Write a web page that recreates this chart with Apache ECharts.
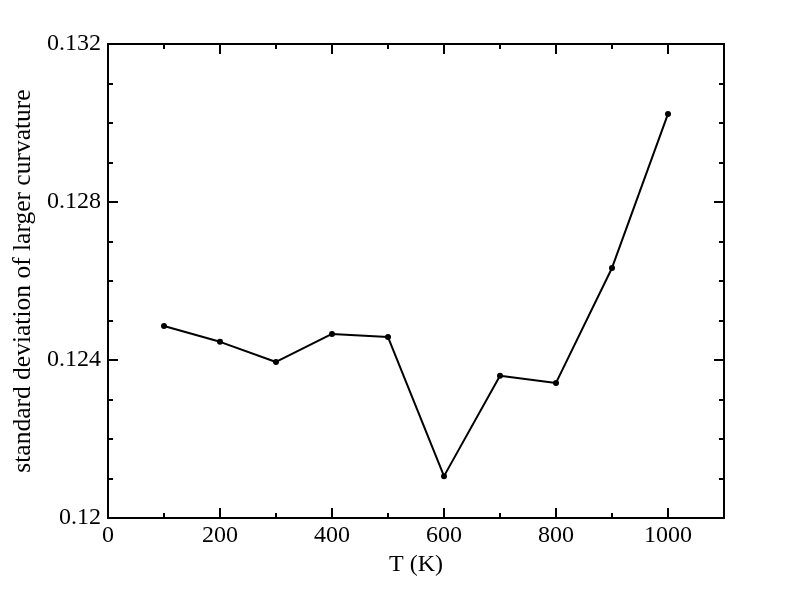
<!DOCTYPE html>
<html><head><meta charset="utf-8">
<script src="https://cdn.jsdelivr.net/npm/echarts@6/dist/echarts.min.js"></script>
<style>html,body{margin:0;padding:0;background:#fff}#c{width:792px;height:612px}</style>
</head><body><div id="c"></div>
<script>
const temps = [100, 200, 300, 400, 500, 600, 700, 800, 900, 1000];
const stdDev = [0.12486, 0.12446, 0.12395, 0.12466, 0.12458, 0.12106, 0.12360, 0.12342, 0.12633, 0.13023];
const xTitle = 'T (K)';
const yTitle = 'standard deviation of larger curvature';

const chart = echarts.init(document.getElementById('c'));
const font = 'Liberation Serif, Times New Roman, serif';
const axisLine = {show: true, onZero: false, lineStyle: {color: '#000', width: 2}};
const tickMajor = {show: true, inside: true, length: 10, lineStyle: {color: '#000', width: 2}};
const xMinor = {show: true, splitNumber: 2, length: 5, lineStyle: {color: '#000', width: 2}};
const yMinor = {show: true, splitNumber: 4, length: 5, lineStyle: {color: '#000', width: 2}};
const xBase = {type: 'value', min: 0, max: 1100, interval: 200, splitLine: {show: false}, axisLine};
const yBase = {type: 'value', min: 0.12, max: 0.132, interval: 0.004, splitLine: {show: false}, axisLine};
chart.setOption({
  animation: false,
  backgroundColor: '#fff',
  grid: {left: 108, top: 44, right: 68, bottom: 94, containLabel: false, outerBoundsMode: 'none'},
  xAxis: [
    Object.assign({}, xBase, {
      position: 'bottom',
      axisTick: tickMajor, minorTick: xMinor,
      axisLabel: {color: '#000', fontFamily: font, fontSize: 24, margin: 6,
        formatter: v => v > 1000 ? '' : String(v)},
      name: xTitle, nameLocation: 'middle', nameGap: 33,
      nameTextStyle: {color: '#000', fontFamily: font, fontSize: 24}
    }),
    Object.assign({}, xBase, {
      position: 'top',
      axisTick: tickMajor, minorTick: xMinor,
      axisLabel: {show: false}
    })
  ],
  yAxis: [
    Object.assign({}, yBase, {
      position: 'left',
      axisTick: tickMajor, minorTick: yMinor,
      axisLabel: {color: '#000', fontFamily: font, fontSize: 24, margin: 7,
        formatter: v => String(parseFloat(v.toFixed(3)))},
      name: yTitle, nameLocation: 'middle', nameGap: 65, nameRotate: 90,
      nameTextStyle: {color: '#000', fontFamily: font, fontSize: 25.5}
    }),
    Object.assign({}, yBase, {
      position: 'right',
      axisTick: tickMajor, minorTick: yMinor,
      axisLabel: {show: false}
    })
  ],
  series: [{
    type: 'line',
    data: temps.map((t, i) => [t, stdDev[i]]),
    xAxisIndex: 0, yAxisIndex: 0,
    symbol: 'circle', symbolSize: 6,
    itemStyle: {color: '#000'},
    lineStyle: {color: '#000', width: 2}
  }]
});
</script></body></html>
